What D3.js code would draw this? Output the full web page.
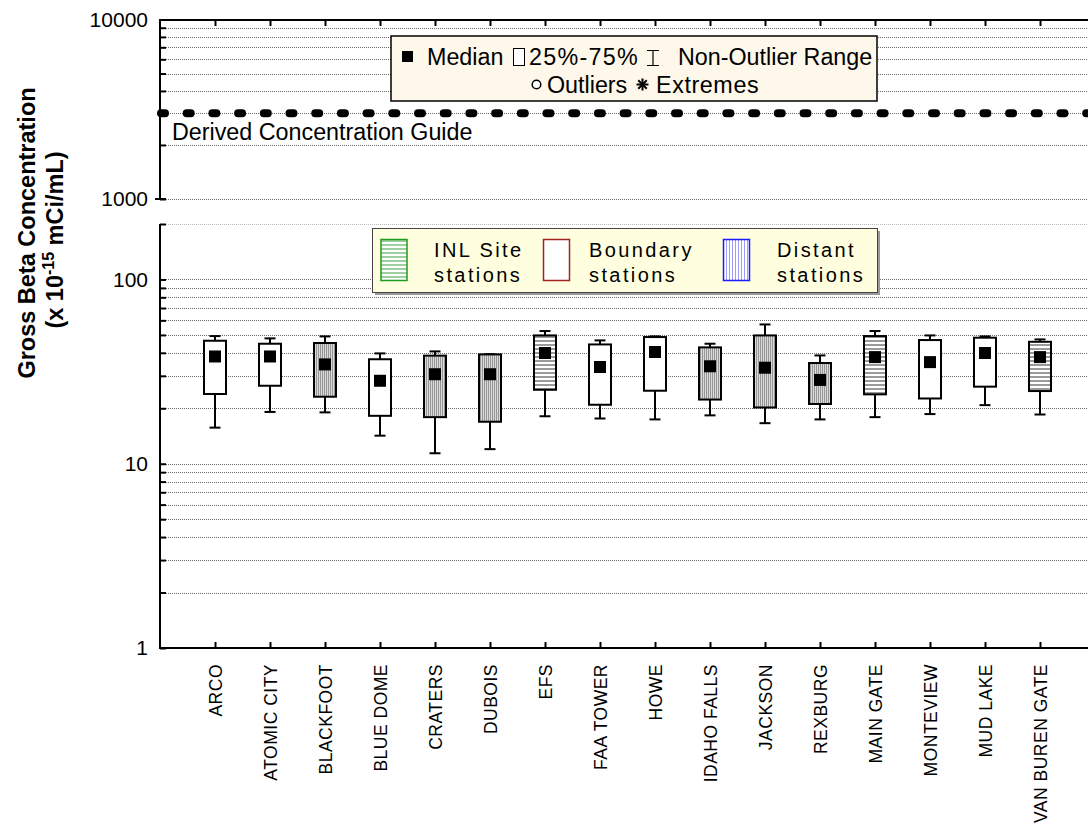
<!DOCTYPE html>
<html>
<head>
<meta charset="utf-8">
<script src="https://cdn.jsdelivr.net/npm/d3@7"></script>
<style>
  body { margin: 0; background: #fff; }
  svg { display: block; font-family: "Liberation Sans", Arial, sans-serif; }
</style>
</head>
<body>
<div id="chart"></div>
<script>
// station data
var stations = ["ARCO", "ATOMIC CITY", "BLACKFOOT", "BLUE DOME", "CRATERS", "DUBOIS", "EFS",
  "FAA TOWER", "HOWE", "IDAHO FALLS", "JACKSON", "REXBURG", "MAIN GATE", "MONTEVIEW",
  "MUD LAKE", "VAN BUREN GATE"];
var group = ["boundary", "boundary", "distant", "boundary", "distant", "distant", "site",
  "boundary", "boundary", "distant", "distant", "distant", "site", "boundary",
  "boundary", "site"];
var whiskerLow = [15.7, 19.1, 19.0, 14.2, 11.4, 12.0, 18.1, 17.6, 17.4, 18.3, 16.6, 17.4, 17.9, 18.6, 20.8, 18.5];
var q1 = [23.9, 26.5, 23.1, 18.2, 17.9, 16.9, 25.2, 20.9, 24.9, 22.3, 20.2, 21.1, 23.8, 22.6, 26.2, 24.8];
var median = [38.2, 38.2, 34.6, 28.2, 30.6, 30.6, 39.9, 33.5, 40.4, 33.8, 33.2, 28.5, 37.9, 35.6, 39.9, 37.9];
var q3 = [46.5, 44.8, 45.2, 36.9, 38.6, 39.2, 49.7, 44.4, 48.7, 42.8, 49.7, 35.2, 49.3, 46.9, 48.3, 45.9];
var whiskerHigh = [49.3, 47.9, 49.1, 39.7, 40.7, 39.3, 52.5, 46.7, 49.1, 44.8, 57.0, 38.7, 52.5, 49.7, 49.1, 47.3];

var dcgValue = 3000;
var topTickLabels = [1000, 10000];
var bottomTickLabels = [1, 10, 100];

var W = 1088, H = 826;
var svg = d3.select("#chart").append("svg").attr("width", W).attr("height", H);

var x = d3.scaleLinear().domain([0, stations.length + 1]).range([160, 1095]);
var yTop = d3.scaleLog().domain([1000, 10000]).range([199, 19.5]);
var yBot = d3.scaleLog().domain([1, 200]).range([648, 224]);

// patterns
var defs = svg.append("defs");
function stripes(id, horizontal, bg, fg, period, thick) {
  var p = defs.append("pattern").attr("id", id).attr("patternUnits", "userSpaceOnUse")
    .attr("width", horizontal ? 8 : period).attr("height", horizontal ? period : 8);
  p.append("rect").attr("width", 8).attr("height", 8).attr("fill", bg);
  if (horizontal) p.append("rect").attr("width", 8).attr("height", thick).attr("fill", fg);
  else p.append("rect").attr("width", thick).attr("height", 8).attr("fill", fg);
}
stripes("hgray", true, "#ffffff", "#9a9a9a", 4, 2);
stripes("vgray", false, "#dadada", "#969696", 2, 1);
stripes("hgreen", true, "#ffffff", "#9fd09f", 4, 2);
stripes("vblue", false, "#ffffff", "#9a9aff", 3, 1);

var fillFor = { site: "url(#hgray)", boundary: "#ffffff", distant: "url(#vgray)" };

// gridlines
var grid = svg.append("g").attr("stroke", "#6a6a6a").attr("stroke-width", 1).attr("stroke-dasharray", "1,1");
yTop.ticks().filter(function (d) { return d < 10000; }).forEach(function (d) {
  grid.append("line").attr("x1", 160).attr("x2", W).attr("y1", Math.round(yTop(d)) + 0.5).attr("y2", Math.round(yTop(d)) + 0.5);
});
yBot.ticks().filter(function (d) { return d > 1; }).forEach(function (d) {
  grid.append("line").attr("x1", 160).attr("x2", W).attr("y1", Math.round(yBot(d)) + 0.5).attr("y2", Math.round(yBot(d)) + 0.5)
    .attr("stroke", d === 200 ? "#bbb" : null);
});

// axes
function styleAxis(g) {
  g.select(".domain").remove();
  g.selectAll(".tick line").attr("stroke", "#000").attr("stroke-width", 2);
  g.selectAll(".tick text").attr("font-size", 21).attr("fill", "#000");
}
svg.append("g").attr("transform", "translate(160,0)")
  .call(d3.axisLeft(yTop).tickValues(yTop.ticks()).tickSize(-6).tickPadding(12)
    .tickFormat(function (d) { return topTickLabels.indexOf(d) >= 0 ? d : ""; }))
  .call(styleAxis);
svg.append("g").attr("transform", "translate(160,0)")
  .call(d3.axisLeft(yBot).tickValues(yBot.ticks()).tickSize(-6).tickPadding(12)
    .tickFormat(function (d) { return bottomTickLabels.indexOf(d) >= 0 ? d : ""; }))
  .call(styleAxis);

var axisLines = svg.append("g").attr("stroke", "#000").attr("stroke-width", 2).attr("fill", "none");
axisLines.append("line").attr("x1", 160).attr("x2", 160).attr("y1", 19.5).attr("y2", 200);
axisLines.append("line").attr("x1", 155).attr("x2", 166).attr("y1", 199).attr("y2", 199);
axisLines.append("line").attr("x1", 160).attr("x2", 160).attr("y1", 224).attr("y2", 649);
axisLines.append("line").attr("x1", 159).attr("x2", W).attr("y1", 20).attr("y2", 20);
axisLines.append("line").attr("x1", 159).attr("x2", W).attr("y1", 648).attr("y2", 648);

// category ticks (inward) top and bottom
svg.append("g").attr("transform", "translate(0,648)")
  .call(d3.axisBottom(x).tickValues(d3.range(1, stations.length + 1)).tickSize(-6)
    .tickFormat(function (d) { return ""; }))
  .call(styleAxis);
svg.append("g").attr("transform", "translate(0,20)")
  .call(d3.axisTop(x).tickValues(d3.range(1, stations.length + 1)).tickSize(-6)
    .tickFormat(function (d) { return ""; }))
  .call(styleAxis);

// category labels
svg.append("g").selectAll("text").data(stations).enter().append("text")
  .attr("transform", function (d, i) { return "translate(" + (x(i + 1) + 6.5) + ",664) rotate(-90)"; })
  .attr("text-anchor", "end").attr("font-size", 17.5).attr("letter-spacing", 0.5)
  .text(function (d) { return d; });

// DCG line
svg.append("line").attr("x1", 161).attr("x2", W).attr("y1", yTop(dcgValue)).attr("y2", yTop(dcgValue))
  .attr("stroke", "#000").attr("stroke-width", 8).attr("stroke-linecap", "round")
  .attr("stroke-dasharray", "4,21.7");
svg.append("text").attr("x", 172).attr("y", 140).attr("font-size", 23.3).text("Derived Concentration Guide");

// boxes
var bw = 22, cw = 11, ms = 12;
var boxes = svg.append("g").selectAll("g").data(stations).enter().append("g");
boxes.each(function (d, i) {
  var g = d3.select(this), cx = x(i + 1);
  var line = function (x1, y1, x2, y2) {
    g.append("line").attr("x1", x1).attr("y1", y1).attr("x2", x2).attr("y2", y2)
      .attr("stroke", "#000").attr("stroke-width", 2);
  };
  line(cx, yBot(whiskerHigh[i]), cx, yBot(q3[i]));
  line(cx, yBot(q1[i]), cx, yBot(whiskerLow[i]));
  line(cx - cw / 2, yBot(whiskerHigh[i]), cx + cw / 2, yBot(whiskerHigh[i]));
  line(cx - cw / 2, yBot(whiskerLow[i]), cx + cw / 2, yBot(whiskerLow[i]));
  g.append("rect").attr("x", cx - bw / 2).attr("y", yBot(q3[i]))
    .attr("width", bw).attr("height", yBot(q1[i]) - yBot(q3[i]))
    .attr("fill", fillFor[group[i]]).attr("stroke", "#000").attr("stroke-width", 2);
  g.append("rect").attr("x", cx - ms / 2).attr("y", yBot(median[i]) - ms / 2)
    .attr("width", ms).attr("height", ms).attr("fill", "#000");
});

// top legend
var lg = svg.append("g");
var lfs = 23.3;
lg.append("rect").attr("x", 391).attr("y", 36).attr("width", 486).attr("height", 65)
  .attr("fill", "#fdf8ea").attr("stroke", "#000").attr("stroke-width", 1.5);
lg.append("rect").attr("x", 402).attr("y", 51).attr("width", 11).attr("height", 11).attr("fill", "#000");
lg.append("text").attr("x", 427).attr("y", 65).attr("font-size", lfs).text("Median");
lg.append("rect").attr("x", 513.5).attr("y", 48.5).attr("width", 11).attr("height", 17)
  .attr("fill", "#fff").attr("stroke", "#000").attr("stroke-width", 1);
lg.append("text").attr("x", 529).attr("y", 65).attr("font-size", lfs).attr("letter-spacing", 1.3).text("25%-75%");
lg.append("path").attr("d", "M647,50.5H659M653,50.5V65.5M647,65.5H659").attr("stroke", "#000").attr("stroke-width", 1.2).attr("fill", "none");
lg.append("text").attr("x", 678).attr("y", 65).attr("font-size", lfs).text("Non-Outlier Range");
lg.append("circle").attr("cx", 536.5).attr("cy", 84.5).attr("r", 4.3).attr("fill", "#fff").attr("stroke", "#000").attr("stroke-width", 1.5);
lg.append("text").attr("x", 547).attr("y", 93).attr("font-size", lfs).text("Outliers");
[0, 45, 90, 135].forEach(function (a) {
  var r = 6, t = a * Math.PI / 180;
  lg.append("line").attr("x1", 642.5 - r * Math.cos(t)).attr("y1", 84.5 - r * Math.sin(t))
    .attr("x2", 642.5 + r * Math.cos(t)).attr("y2", 84.5 + r * Math.sin(t))
    .attr("stroke", "#000").attr("stroke-width", 2);
});
lg.append("text").attr("x", 656).attr("y", 93).attr("font-size", lfs).attr("letter-spacing", 0.6).text("Extremes");

// station-type legend
var sl = svg.append("g");
sl.append("rect").attr("x", 375).attr("y", 231).attr("width", 505).attr("height", 64).attr("fill", "#999");
sl.append("rect").attr("x", 372.5).attr("y", 228.5).attr("width", 505).attr("height", 64)
  .attr("fill", "#ffffdf").attr("stroke", "#444").attr("stroke-width", 1);
var legendItems = [
  { x: 381, fill: "url(#hgreen)", stroke: "#1f9a1f", l1: "INL Site", tx: 434 },
  { x: 543.5, fill: "#ffffff", stroke: "#a32222", l1: "Boundary", tx: 589 },
  { x: 723.5, fill: "url(#vblue)", stroke: "#1a1aff", l1: "Distant", tx: 777 }
];
legendItems.forEach(function (it) {
  sl.append("rect").attr("x", it.x).attr("y", 239.5).attr("width", 26).attr("height", 41)
    .attr("fill", it.fill).attr("stroke", it.stroke).attr("stroke-width", 1.5);
  sl.append("text").attr("x", it.tx).attr("y", 257).attr("font-size", 20).attr("letter-spacing", 2.4).text(it.l1);
  sl.append("text").attr("x", it.tx).attr("y", 282).attr("font-size", 20).attr("letter-spacing", 2.4).text("stations");
});

// y axis title
var yt = svg.append("text").attr("transform", "translate(35,233) rotate(-90)")
  .attr("text-anchor", "middle").attr("font-weight", "bold").attr("font-size", 23.5);
yt.text("Gross Beta Concentration");
var yt2 = svg.append("text").attr("transform", "translate(63,240) rotate(-90)")
  .attr("text-anchor", "middle").attr("font-weight", "bold").attr("font-size", 23.5);
yt2.append("tspan").text("(x 10");
yt2.append("tspan").attr("font-size", 16).attr("dy", -9).text("-15");
yt2.append("tspan").attr("dy", 9).text(" mCi/mL)");
</script>
</body>
</html>
